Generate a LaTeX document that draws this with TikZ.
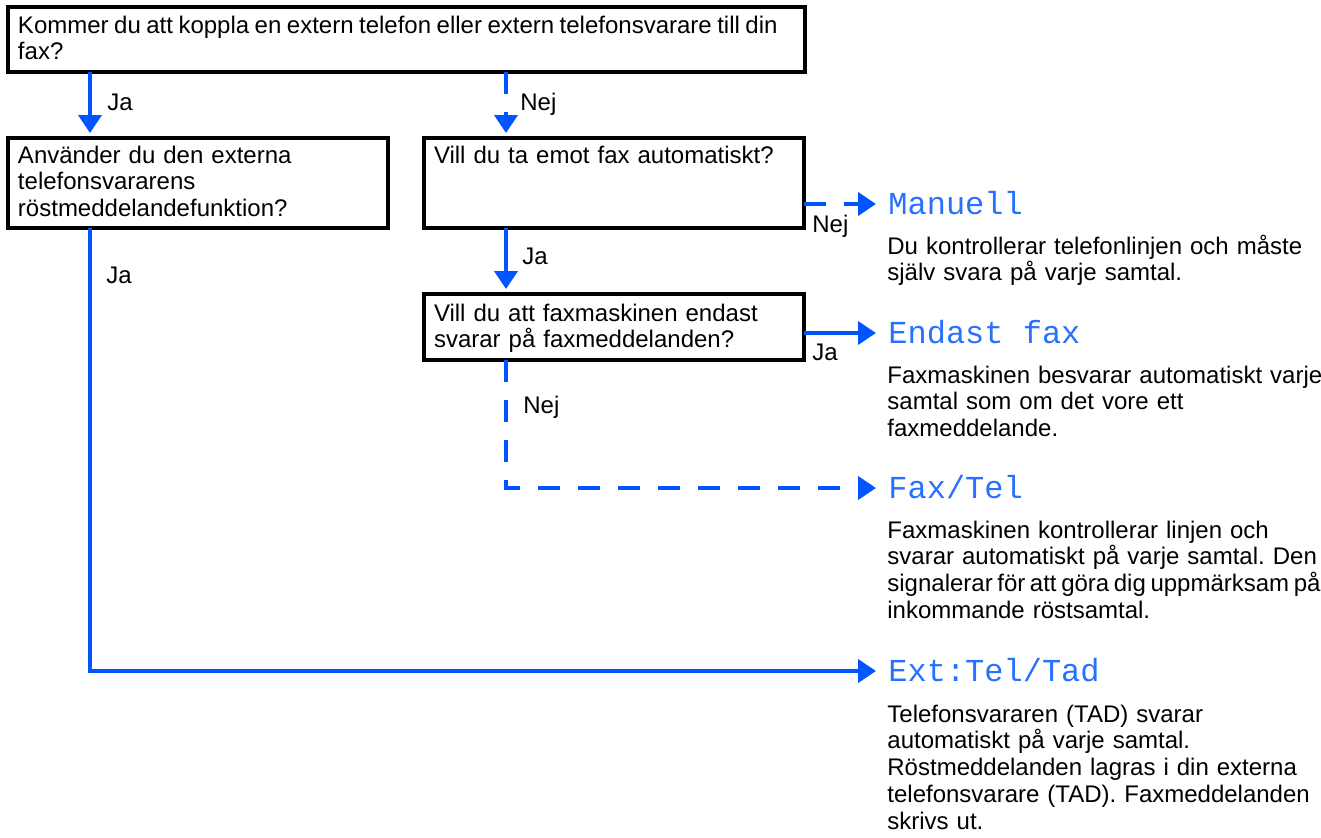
\documentclass[tikz,border=0pt]{standalone}
\usepackage{fontspec}
\setmainfont{Liberation Sans}
\newfontfamily\lcdfont{Liberation Mono}
\usepackage{tikz}
\usetikzlibrary{arrows.meta,positioning}
\definecolor{faxblue}{RGB}{0,85,255}
\definecolor{lcdblue}{RGB}{40,112,255}
\frenchspacing
\tikzset{
  >={Triangle[length=9pt,width=11.5pt]},
  flow/.style={->, line width=2pt, draw=faxblue},
  dashflow/.style={flow, dash pattern=on 11pt off 9pt},
  qbox/.style={
    draw=black,
    line width=1.75pt,
    outer sep=0pt,
    anchor=north west,
    align=left,
    inner xsep=5pt,
    inner ysep=2pt,
    font=\fontsize{12}{13.4}\selectfont
  },
  mode/.style={anchor=west, inner xsep=2pt, inner ysep=0pt, text height=10.5pt,
    text depth=0pt, text=lcdblue, font=\lcdfont\fontsize{16}{16}\selectfont},
  modetext/.style={align=left, inner sep=0pt, text width=220pt,
    font=\fontsize{12}{13.4}\selectfont},
  answer/.style={anchor=base west, inner sep=0pt, font=\fontsize{12}{13.4}\selectfont}
}

\begin{document}
\begin{tikzpicture}[x=0.5pt,y=-0.5pt]
  \useasboundingbox (0,0) rectangle (1321,837);

  % questions
  \node[qbox,text width=388.5pt,text height=11pt,text depth=17.5pt] (connect) at (8,7)
    {{\spaceskip=2.75pt plus 0.5pt\relax Kommer du att koppla en extern telefon eller extern telefonsvarare till din}\\fax?};
  \node[qbox,text width=180pt,text height=10.5pt,text depth=30.5pt] (voicemsg) at (8,138)
    {Använder du den externa\\telefonsvararens\\röstmeddelandefunktion?};
  \node[qbox,text width=180pt,text height=10.5pt,text depth=30.5pt] (autorx) at (424,138)
    {Vill du ta emot fax automatiskt?};
  \node[qbox,text width=180pt,text height=11.5pt,text depth=17.5pt] (faxonly) at (424,294)
    {Vill du att faxmaskinen endast\\svarar på faxmeddelanden?};

  % receive modes
  \node[mode] (manual) at (884,204) {Manuell};
  \node[mode] (fax) at (884,333) {Endast fax};
  \node[mode] (faxtel) at (884,488) {Fax/Tel};
  \node[mode] (exttad) at (884,671) {Ext:Tel/Tad};

  \node[modetext,below=19.75pt of manual.base west,anchor=base west,xshift=1.5pt] (manualtxt)
    {Du kontrollerar telefonlinjen och måste\\själv svara på varje samtal.};
  \node[modetext,below=19.75pt of fax.base west,anchor=base west,xshift=1.5pt] (faxtxt)
    {Faxmaskinen besvarar automatiskt varje\\samtal som om det vore ett\\faxmeddelande.};
  \node[modetext,below=19.75pt of faxtel.base west,anchor=base west,xshift=1.5pt] (faxteltxt)
    {Faxmaskinen kontrollerar linjen och\\svarar automatiskt på varje samtal. Den\\{\spaceskip=2.3pt plus 0.5pt\relax signalerar för att göra dig uppmärksam på}\\inkommande röstsamtal.};
  \node[modetext,below=20.25pt of exttad.base west,anchor=base west,xshift=1.5pt] (exttadtxt)
    {Telefonsvararen (TAD) svarar\\automatiskt på varje samtal.\\Röstmeddelanden lagras i din externa\\telefonsvarare (TAD). Faxmeddelanden\\skrivs ut.};

  % answers
  \node[answer] (jaconnect) at (107,110) {Ja};
  \node[answer] (nejconnect) at (520,110) {Nej};
  \node[answer] (javoice) at (106,283) {Ja};
  \node[answer] (jaauto) at (522,264) {Ja};
  \node[answer] (nejauto) at (812,232) {Nej};
  \node[answer] (jafaxonly) at (812,360) {Ja};
  \node[answer] (nejfaxonly) at (523,413) {Nej};

  % connectors
  \draw[flow,shorten >=2.5pt] ([xshift=41pt]connect.south west) -- ([xshift=41pt]voicemsg.north west);
  \draw[dashflow,shorten >=2.5pt] ([xshift=249pt]connect.south west) -- ([xshift=41pt]autorx.north west);
  \draw[flow,shorten >=4pt] ([xshift=41pt]voicemsg.south west) |- (exttad.west);
  \draw[flow,shorten >=2.5pt] ([xshift=41pt]autorx.south west) -- ([xshift=41pt]faxonly.north west);
  \draw[dashflow,shorten >=4pt] (autorx.east |- manual.west) -- (manual.west);
  \draw[flow,shorten >=4pt] (faxonly.east |- fax.west) -- (fax.west);
  \draw[dashflow,shorten >=4pt] ([xshift=41pt]faxonly.south west) |- (faxtel.west);
\end{tikzpicture}
\end{document}
